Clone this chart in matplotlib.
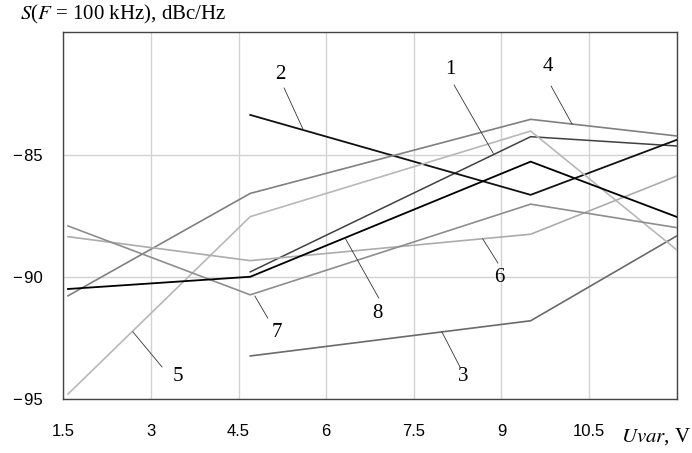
import numpy as np
import matplotlib.pyplot as plt

# supply voltage points, V
u1 = [1.58, 4.7, 9.5, 12.0]
u2 = [4.7, 9.5, 12.0]

# phase noise at 100 kHz offset, dBc/Hz
s1 = [-89.8, -84.27, -84.65]
s2 = [-83.38, -86.65, -84.4]
s3 = [-93.24, -91.8, -88.33]
s4 = [-90.78, -86.59, -83.56, -84.24]
s5 = [-94.8, -87.54, -84.04, -88.9]
s6 = [-88.36, -89.34, -88.26, -85.88]
s7 = [-87.92, -90.74, -87.03, -87.99]
s8 = [-90.5, -90.0, -85.29, -87.55]

xticks = [1.5, 3, 4.5, 6, 7.5, 9, 10.5]
xticklabels = ["1.5", "3", "4.5", "6", "7.5", "9", "10.5"]
yticks = [-95, -90, -85]
yticklabels = ["\u2212\u200a95", "\u2212\u200a90", "\u2212\u200a85"]

plt.rcParams['mathtext.fontset'] = 'stix'

fig = plt.figure(figsize=(6.92, 4.53), dpi=100)
ax = fig.add_axes([63.3/692, 1-399/453, 613.4/692, 366.7/453])

curves = [
    (u2, s1, "#404040", 1.1),
    (u2, s2, "#111111", 1.3),
    (u2, s3, "#6a6a6a", 1.2),
    (u1, s4, "#808080", 1.2),
    (u1, s5, "#b8b8b8", 1.2),
    (u1, s6, "#acacac", 1.2),
    (u1, s7, "#8e8e8e", 1.2),
    (u1, s8, "#000000", 1.3),
]
for xs, ys, c, lw in curves:
    ax.plot(xs, ys, color=c, lw=lw, zorder=3)

# curve numbers with leader lines: (text pos, line start, line end)
labels = [
    ("1", (8.12, -81.54), (8.19, -82.16), (8.86, -84.95)),
    ("2", (5.21, -81.71), (5.28, -82.28), (5.61, -84.0)),
    ("3", (8.34, -94.09), (8.29, -93.69), (7.98, -92.25)),
    ("4", (9.80, -81.38), (9.85, -82.2), (10.21, -83.76)),
    ("5", (3.46, -94.09), (3.19, -93.69), (2.69, -92.25)),
    ("6", (8.97, -90.05), (8.94, -89.44), (8.68, -88.45)),
    ("7", (5.16, -92.26), (5.0, -91.69), (4.78, -90.79)),
    ("8", (6.87, -91.52), (6.90, -90.87), (6.32, -88.4)),
]
for t, pos, a, b in labels:
    ax.plot([a[0], b[0]], [a[1], b[1]], color="#333333", lw=0.6, zorder=4)
    ax.text(pos[0], pos[1], t, fontsize=15, family="Liberation Serif",
            ha="center", va="center", zorder=5)

ax.set_xlim(1.5, 12)
ax.set_ylim(-95, -80)
ax.set_xticks(xticks)
ax.set_xticklabels(xticklabels, family="Liberation Sans", fontsize=12)
ax.set_yticks(yticks)
ax.set_yticklabels(yticklabels, family="Liberation Sans", fontsize=12)
ax.set_xticks([12], minor=True)
ax.tick_params(axis="both", which="both", length=0)
ax.tick_params(axis="x", pad=18)
ax.tick_params(axis="y", pad=15)
ax.grid(True, which="both", color="#d2d2d2", lw=1.0, zorder=0)
for sp in ax.spines.values():
    sp.set_color("#444444")
    sp.set_linewidth(1.0)

fig.text(20/692, 1-14/453, r"$S$($F$ = 100 kHz), dBc/Hz", family="Liberation Serif",
         fontsize=15, ha="left", va="center")
fig.text(691/692, 1-437/453, r"$Uvar$, V", family="Liberation Serif",
         fontsize=15, ha="right", va="center")

fig.savefig("out.png", dpi=100)
